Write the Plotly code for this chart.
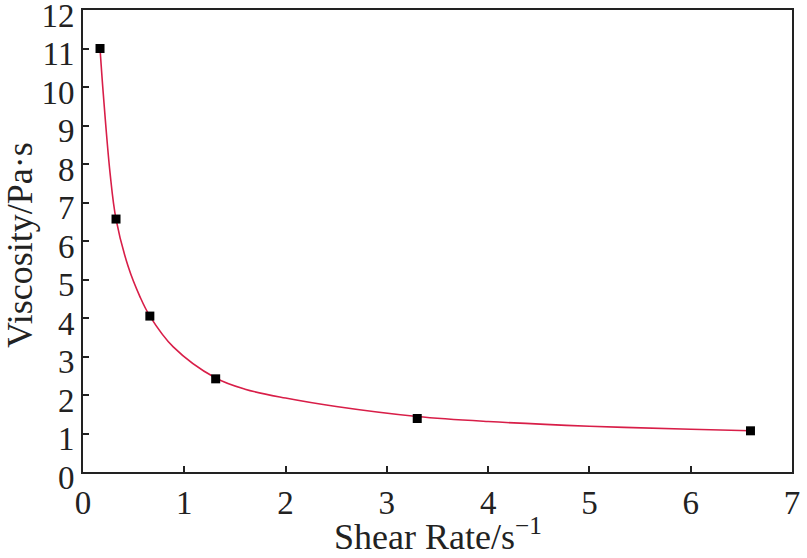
import plotly.graph_objects as go

# Measured data points
shear_rate = [0.168, 0.326, 0.66, 1.31, 3.30, 6.59]
viscosity = [11.0, 6.57, 4.05, 2.42, 1.39, 1.07]

# Fitted curve values
curve_x = [0.168, 0.2, 0.267, 0.326, 0.447, 0.563, 0.66, 0.891, 1.31, 1.6, 2.0,
           2.5, 3.3, 4.0, 5.0, 6.0, 6.59]
curve_y = [11.0, 9.83, 7.77, 6.57, 5.33, 4.55, 4.05, 3.25, 2.44, 2.15, 1.92,
           1.70, 1.44, 1.31, 1.19, 1.11, 1.07]

x_ticks = [0, 1, 2, 3, 4, 5, 6, 7]
y_ticks = list(range(0, 13))

x_title = "Shear Rate/s<sup>−1</sup>"
y_title = "Viscosity/Pa·s"

FONT = "Liberation Serif"
INK = "#222"

fig = go.Figure()
fig.add_trace(go.Scatter(
    x=curve_x, y=curve_y, mode="lines",
    line=dict(color="#d81e48", width=1.6, shape="spline", smoothing=1.0),
    showlegend=False, hoverinfo="skip"))
fig.add_trace(go.Scatter(
    x=shear_rate, y=viscosity, mode="markers",
    marker=dict(symbol="square", color="black", size=9),
    showlegend=False))

axis_common = dict(
    showline=True, linecolor=INK, linewidth=2, mirror=True,
    ticks="inside", ticklen=6, tickwidth=1.5, tickcolor=INK,
    showgrid=False, zeroline=False, automargin=False,
    ticklabeloverflow="allow",
    tickfont=dict(family=FONT, size=33, color=INK),
)

fig.update_layout(
    width=807, height=558,
    margin=dict(l=83, r=15, t=10, b=86),
    paper_bgcolor="white", plot_bgcolor="white",
    font=dict(family=FONT, color=INK),
    xaxis=dict(range=[0, 7], tickvals=x_ticks, **axis_common),
    yaxis=dict(range=[0, 12], tickvals=y_ticks, ticklabelshift=5, **axis_common),
    annotations=[
        dict(text=x_title, xref="paper", yref="paper", x=0.5, y=-0.136,
             xanchor="center", yanchor="middle", showarrow=False,
             font=dict(family=FONT, size=36, color=INK)),
        dict(text=y_title, xref="paper", yref="paper", x=-0.089, y=0.491,
             xanchor="center", yanchor="middle", showarrow=False, textangle=-90,
             font=dict(family=FONT, size=36, color=INK)),
    ],
)

fig.write_html("out.html", config={"displayModeBar": False},
               post_script="document.body.style.margin='0';document.body.style.overflow='hidden';")
